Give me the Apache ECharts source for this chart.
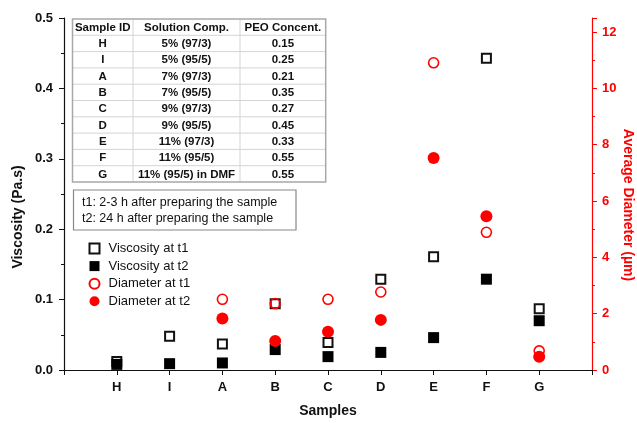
<!DOCTYPE html>
<html>
<head>
<meta charset="utf-8">
<script src="https://cdn.jsdelivr.net/npm/echarts@6/dist/echarts.min.js"></script>
<style>
  html, body { margin: 0; padding: 0; background: #fff; }
  #main { width: 637px; height: 423px; }
</style>
</head>
<body>
<div id="main"></div>
<script>
// samples on the x axis (positions 1..9)
const categories = ['H', 'I', 'A', 'B', 'C', 'D', 'E', 'F', 'G'];
// viscosity (Pa.s), left axis
const viscosityT1 = [0.012, 0.048, 0.037, 0.094, 0.039, 0.129, 0.161, 0.443, 0.087];
const viscosityT2 = [0.008, 0.009, 0.010, 0.029, 0.019, 0.025, 0.046, 0.129, 0.070];
// average diameter (um), right axis; H and I have none
const diameterT1 = [null, null, 2.51, 2.36, 2.51, 2.77, 10.91, 4.89, 0.68];
const diameterT2 = [null, null, 1.83, 1.03, 1.36, 1.78, 7.53, 5.46, 0.47];

// inset table
const tableHeader = ['Sample ID', 'Solution Comp.', 'PEO Concent.'];
const solutionComp = ['5% (97/3)', '5% (95/5)', '7% (97/3)', '7% (95/5)', '9% (97/3)',
  '9% (95/5)', '11% (97/3)', '11% (95/5)', '11% (95/5) in DMF'];
const peoConcent = ['0.15', '0.25', '0.21', '0.35', '0.27', '0.45', '0.33', '0.55', '0.55'];
const notes = ['t1: 2-3 h after preparing the sample', 't2: 24 h after preparing the sample'];

const RED = '#ff0000';
const FONT = '"Liberation Sans", Arial, sans-serif';

function pts(arr) {
  return arr.map((v, i) => [i + 1, v]).filter(p => p[1] !== null);
}

// ---- table graphic ----
const tbl = { x: 72.5, y: 19, cols: [60.5, 107, 85.7], rowH: 16.3 };
const graphics = [];
const rows = [tableHeader].concat(categories.map((c, i) => [c, solutionComp[i], peoConcent[i]]));
const tblW = tbl.cols.reduce((a, b) => a + b, 0);
const tblH = tbl.rowH * rows.length;
for (let r = 1; r < rows.length; r++) {
  graphics.push({
    type: 'line', silent: true,
    shape: { x1: tbl.x, y1: tbl.y + r * tbl.rowH, x2: tbl.x + tblW, y2: tbl.y + r * tbl.rowH },
    style: { stroke: '#d4d4d4', lineWidth: 1 }
  });
}
let cx = tbl.x;
for (let c = 0; c < tbl.cols.length; c++) {
  if (c > 0) {
    graphics.push({
      type: 'line', silent: true,
      shape: { x1: cx, y1: tbl.y, x2: cx, y2: tbl.y + tblH },
      style: { stroke: '#d4d4d4', lineWidth: 1 }
    });
  }
  rows.forEach((row, r) => {
    graphics.push({
      type: 'text', silent: true,
      x: cx + tbl.cols[c] / 2, y: tbl.y + (r + 0.5) * tbl.rowH + 0.5,
      style: {
        text: row[c], fill: '#111', font: 'bold 11.5px ' + FONT,
        align: 'center', verticalAlign: 'middle'
      }
    });
  });
  cx += tbl.cols[c];
}
graphics.push({
  type: 'rect', silent: true,
  shape: { x: tbl.x, y: tbl.y, width: tblW, height: tblH },
  style: { fill: 'none', stroke: '#a8a8a8', lineWidth: 1.5 }
});

// ---- notes box ----
graphics.push({
  type: 'rect', silent: true,
  shape: { x: 73.5, y: 190, width: 222.5, height: 40 },
  style: { fill: '#fff', stroke: '#888', lineWidth: 1.2 }
});
notes.forEach((t, i) => {
  graphics.push({
    type: 'text', silent: true,
    x: 82, y: 203 + i * 15.6,
    style: { text: t, fill: '#111', font: '12.5px ' + FONT, verticalAlign: 'middle' }
  });
});

// ---- axis titles ----
graphics.push({
  type: 'text', silent: true, x: 18, y: 217, rotation: Math.PI / 2,
  style: { text: 'Viscosity (Pa.s)', fill: '#111', font: 'bold 14px ' + FONT, align: 'center', verticalAlign: 'middle' }
});
graphics.push({
  type: 'text', silent: true, x: 628, y: 205, rotation: -Math.PI / 2,
  style: { text: 'Average Diameter (\u00b5m)', fill: RED, font: 'bold 14px ' + FONT, align: 'center', verticalAlign: 'middle' }
});

const chart = echarts.init(document.getElementById('main'));
chart.setOption({
  animation: false,
  backgroundColor: '#fff',
  textStyle: { fontFamily: FONT },
  grid: { left: 64, right: 45, top: 18, bottom: 53 },
  legend: {
    orient: 'vertical', left: 83.5, top: 237,
    itemWidth: 10, itemHeight: 10, itemGap: 4.6,
    textStyle: { fontSize: 13, color: '#111', fontFamily: FONT, padding: [0, 0, 0, 4] },
    data: ['Viscosity at t1', 'Viscosity at t2', 'Diameter at t1', 'Diameter at t2']
  },
  xAxis: {
    type: 'value', min: 0, max: 10, interval: 1,
    name: 'Samples', nameLocation: 'middle', nameGap: 34,
    nameTextStyle: { fontSize: 14, fontWeight: 'bold', color: '#111', fontFamily: FONT },
    axisLine: { lineStyle: { color: '#111', width: 1.2 } },
    axisTick: { length: 5, lineStyle: { color: '#111' } },
    axisLabel: {
      fontSize: 13, fontWeight: 'bold', color: '#111', margin: 11,
      formatter: v => categories[v - 1] || ''
    },
    splitLine: { show: false }
  },
  yAxis: [{
    type: 'value', min: 0, max: 0.5, interval: 0.1,
    axisLine: { show: true, lineStyle: { color: '#111', width: 1.2 } },
    axisTick: { show: true, length: 5, lineStyle: { color: '#111' } },
    minorTick: { show: true, splitNumber: 2, length: 3, lineStyle: { color: '#111' } },
    axisLabel: { fontSize: 13, fontWeight: 'bold', color: '#111', margin: 11, formatter: v => v.toFixed(1) },
    splitLine: { show: false }
  }, {
    type: 'value', position: 'right', min: 0, max: 12.5, interval: 2,
    axisLine: { show: true, lineStyle: { color: RED, width: 1.2 } },
    axisTick: { show: true, length: 5, lineStyle: { color: RED } },
    minorTick: { show: true, splitNumber: 2, length: 3, lineStyle: { color: RED } },
    axisLabel: {
      fontSize: 13, fontWeight: 'bold', color: RED, margin: 10,
      formatter: v => (v % 2 === 0 ? String(v) : '')
    },
    splitLine: { show: false }
  }],
  series: [{
    name: 'Viscosity at t1', type: 'scatter', yAxisIndex: 0,
    symbol: 'rect', symbolSize: 9,
    itemStyle: { color: 'rgba(255,255,255,0)', borderColor: '#111', borderWidth: 2, opacity: 1 },
    data: pts(viscosityT1)
  }, {
    name: 'Viscosity at t2', type: 'scatter', yAxisIndex: 0,
    symbol: 'rect', symbolSize: 11,
    itemStyle: { color: '#000', opacity: 1 },
    data: pts(viscosityT2)
  }, {
    name: 'Diameter at t1', type: 'scatter', yAxisIndex: 1,
    symbol: 'circle', symbolSize: 10,
    itemStyle: { color: 'rgba(255,255,255,0)', borderColor: RED, borderWidth: 1.6, opacity: 1 },
    data: pts(diameterT1)
  }, {
    name: 'Diameter at t2', type: 'scatter', yAxisIndex: 1,
    symbol: 'circle', symbolSize: 12,
    itemStyle: { color: RED, opacity: 1 },
    data: pts(diameterT2)
  }],
  graphic: graphics
});
</script>
</body>
</html>
